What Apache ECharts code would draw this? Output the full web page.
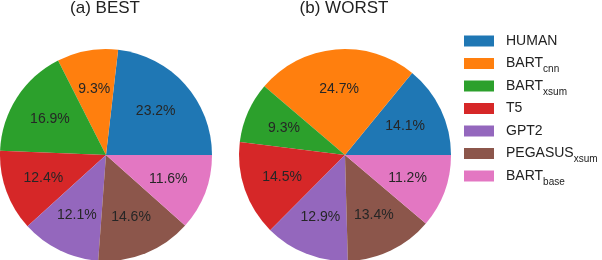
<!DOCTYPE html>
<html>
<head>
<meta charset="utf-8">
<script src="https://cdn.jsdelivr.net/npm/echarts@6/dist/echarts.min.js"></script>
<style>html,body{margin:0;padding:0;background:#fff}#c{width:602px;height:260px}</style>
</head>
<body>
<div id="c"></div>
<script>
var categories = ['HUMAN', 'BART_cnn', 'BART_xsum', 'T5', 'GPT2', 'PEGASUS_xsum', 'BART_base'];
var bestValues = [23.2, 9.3, 16.9, 12.4, 12.1, 14.6, 11.6];
var worstValues = [14.1, 24.7, 9.3, 14.5, 12.9, 13.4, 11.2];
var titles = ['(a) BEST', '(b) WORST'];
var colors = ['#1f77b4', '#ff7f0e', '#2ca02c', '#d62728', '#9467bd', '#8c564b', '#e377c2'];

var chart = echarts.init(document.getElementById('c'), null, {renderer: 'canvas'});
var FONT = 'Liberation Sans, Arial, sans-serif';
var R = 106;
var centers = [[106, 155], [345, 155]];
var seriesVals = [bestValues, worstValues];

function mkData(vals) {
  return categories.map(function (n, i) { return {name: n, value: vals[i]}; });
}

var series = [];
seriesVals.forEach(function (vals, k) {
  series.push({
    type: 'pie', center: centers[k], radius: [0, R],
    startAngle: 0, clockwise: false, silent: true, animation: false,
    avoidLabelOverlap: false,
    label: {show: false}, labelLine: {show: false},
    itemStyle: {borderWidth: 0},
    emphasis: {disabled: true},
    data: mkData(vals)
  });
  series.push({
    type: 'pie', center: centers[k], radius: [0, R * 1.2],
    startAngle: 0, clockwise: false, silent: true, animation: false,
    avoidLabelOverlap: false,
    itemStyle: {color: 'rgba(0,0,0,0)', borderWidth: 0},
    label: {show: true, position: 'inside', formatter: function (p) { return p.value.toFixed(1) + '%'; },
            fontFamily: FONT, fontSize: 14, color: '#262626'},
    labelLine: {show: false},
    emphasis: {disabled: true},
    legendHoverLink: false,
    data: mkData(vals)
  });
});

option = {
  color: colors,
  animation: false,
  title: titles.map(function (t, k) {
    return {text: t, left: centers[k][0] - 1, textAlign: 'center', top: 0, padding: 0,
            textStyle: {fontFamily: FONT, fontSize: 17, fontWeight: 'normal', color: '#222'}};
  }),
  legend: {
    orient: 'vertical', left: 464, top: 30, padding: 0, itemWidth: 30, itemHeight: 11, itemGap: 0.5,
    icon: 'rect', selectedMode: false,
    data: categories,
    formatter: function (name) {
      var parts = name.split('_');
      if (parts.length > 1) return '{a|' + parts[0] + '}{s|' + parts[1] + '}';
      return '{a|' + name + '}';
    },
    textStyle: {
      fontFamily: FONT, fontSize: 14, color: '#222', lineHeight: 22,
      rich: {
        a: {fontFamily: FONT, fontSize: 14, color: '#222', lineHeight: 22, padding: [0, 0, 0, 7]},
        s: {fontFamily: FONT, fontSize: 10, color: '#222', lineHeight: 10, verticalAlign: 'bottom'}
      }
    }
  },
  series: series
};
chart.setOption(option);
</script>
</body>
</html>
